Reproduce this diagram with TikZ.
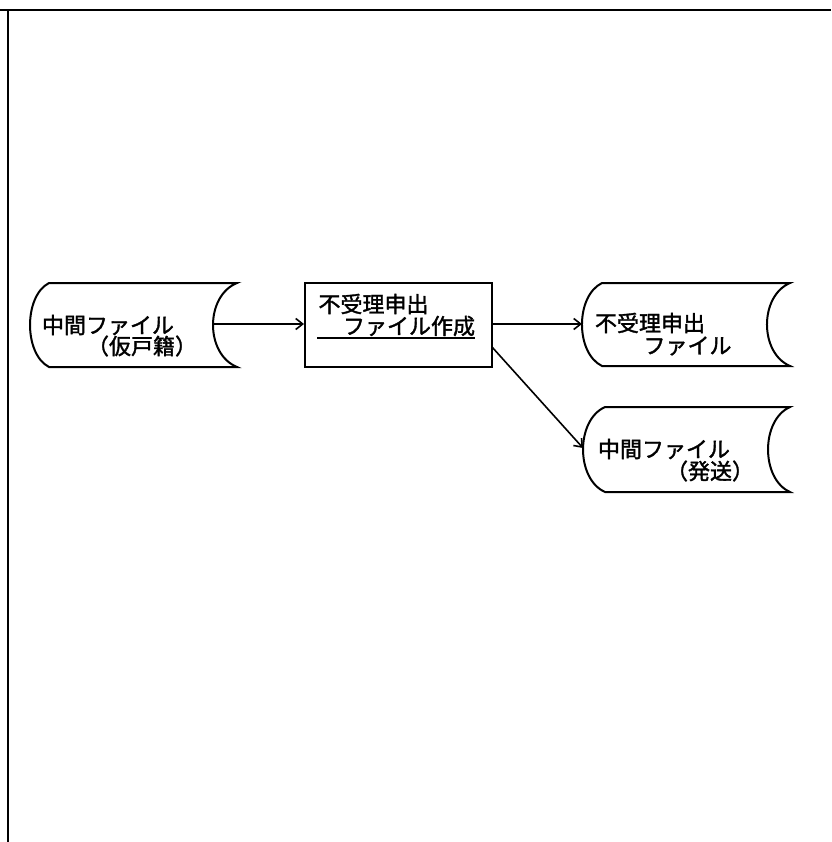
\documentclass[tikz,border=0pt]{standalone}
\usepackage{fontspec}
\newfontfamily\jp[FakeBold=1.6]{Noto Sans CJK JP}
\usetikzlibrary{arrows.meta}
\begin{document}
\begin{tikzpicture}[x=1pt,y=-1pt,
  lbl/.style={font=\jp\fontsize{22}{22}\selectfont, inner sep=0pt, anchor=center},
  conn/.style={-{Straight Barb[length=7pt,width=11pt]}, line width=1.6pt},
  store/.style={line width=2pt},
  frame/.style={line width=2pt}]
\useasboundingbox (0,0) rectangle (831,842);
% frame
\draw[frame] (0,10) -- (831,10);
\draw[frame] (8,10) -- (8,842);
% storage shapes
\draw[store] (49,283) -- (237,283) .. controls (205,296) and (205,354) .. (237,367)
  -- (49,367) .. controls (23.7,354) and (23.7,296) .. (49,283) -- cycle;
\draw[store] (602,283) -- (790,283) .. controls (759.3,296) and (759.3,353) .. (790,366)
  -- (602,366) .. controls (575.3,353) and (575.3,296) .. (602,283) -- cycle;
\draw[store] (605,407) -- (790,407) .. controls (760.7,420) and (760.7,479) .. (790,492)
  -- (605,492) .. controls (575.7,479) and (575.7,420) .. (605,407) -- cycle;
% process box
\node[draw, line width=2pt, minimum width=187pt, minimum height=84pt, inner sep=0pt] (box) at (398.5,325) {};
\draw[line width=1.6pt] (317,338) -- (475,338);
% texts
\node[lbl] (l1) at (108,325) {中間ファイル};
\node[lbl] (l2) at (142,346) {（仮戸籍）};
\node[lbl] (b1) at (373.5,304) {不受理申出};
\node[lbl] (b2) at (409,326) {ファイル作成};
\node[lbl] (r1a) at (650,323) {不受理申出};
\node[lbl] (r1b) at (687.5,346) {ファイル};
\node[lbl] (r2a) at (664,449) {中間ファイル};
\node[lbl] (r2b) at (710,471) {（発送）};
% connection points
\coordinate (s1out) at (213,324);
\coordinate (s2in) at (582,324);
\coordinate (s3in) at (583,448);
\coordinate (bd) at (492,347);
% connectors
\draw[conn] (s1out) -- (s1out -| box.west);
\draw[conn] (box.east |- s2in) -- (s2in);
\draw[conn] (bd) -- (s3in);
\end{tikzpicture}
\end{document}
